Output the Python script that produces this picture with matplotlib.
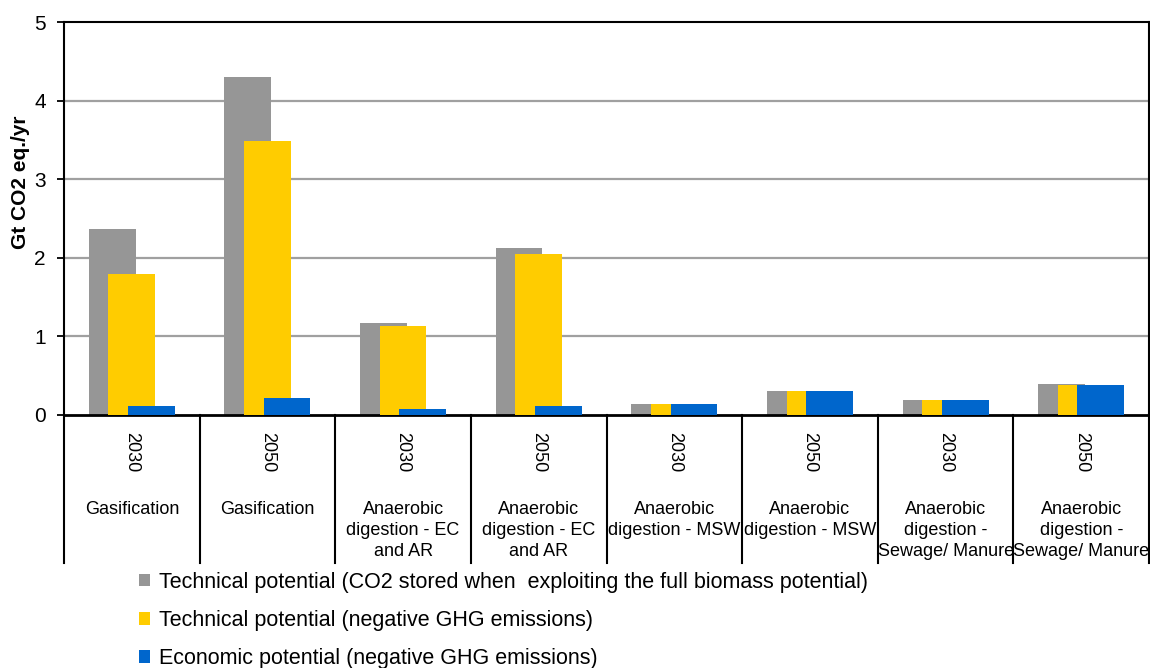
import matplotlib
matplotlib.use("Agg")
import matplotlib.pyplot as plt
from matplotlib.lines import Line2D
from matplotlib.transforms import blended_transform_factory
import numpy as np

plt.rcParams['font.family'] = ['Liberation Sans', 'DejaVu Sans']

# Data
years = ["2030", "2050", "2030", "2050", "2030", "2050", "2030", "2050"]
technologies = [
    "Gasification",
    "Gasification",
    "Anaerobic\ndigestion - EC\nand AR",
    "Anaerobic\ndigestion - EC\nand AR",
    "Anaerobic\ndigestion - MSW",
    "Anaerobic\ndigestion - MSW",
    "Anaerobic\ndigestion -\nSewage/ Manure",
    "Anaerobic\ndigestion -\nSewage/ Manure",
]
tech_full = [2.37, 4.30, 1.17, 2.12, 0.14, 0.30, 0.19, 0.40]
tech_neg = [1.79, 3.49, 1.13, 2.05, 0.14, 0.30, 0.19, 0.38]
econ_neg = [0.11, 0.21, 0.07, 0.11, 0.14, 0.30, 0.19, 0.38]
series_labels = [
    "Technical potential (CO2 stored when  exploiting the full biomass potential)",
    "Technical potential (negative GHG emissions)",
    "Economic potential (negative GHG emissions)",
]
colors = ["#969696", "#FFCC00", "#0066CC"]

W, H = 1150, 668
fig = plt.figure(figsize=(W / 100, H / 100), dpi=100)

def fy(px):
    return 1 - px / H

ax = fig.add_axes([64 / W, fy(415), (1149 - 64) / W, (415 - 22) / H])

x = np.arange(len(years))
width = 0.345
offset = 0.145
handles = []
for i, (vals, col, lab) in enumerate(zip([tech_full, tech_neg, econ_neg], colors, series_labels)):
    b = ax.bar(x + (i - 1) * offset, vals, width, color=col, label=lab, zorder=2 + i)
    handles.append(b)

ax.set_xlim(-0.5, len(years) - 0.5)
ax.set_ylim(0, 5)
ax.set_yticks(range(6))
ax.set_xticks([])
ax.tick_params(axis='y', labelsize=15, length=5, width=1.3, pad=8, color='black')
for yv in range(1, 5):
    ax.axhline(yv, color='#A0A0A0', lw=1.6, zorder=1)
for s in ax.spines.values():
    s.set_color('black')
    s.set_linewidth(1.5)
ax.spines['bottom'].set_linewidth(2)

fig.text(21 / W, fy(182), "Gt CO2 eq./yr", rotation=90, ha='center', va='center',
         fontsize=15, fontweight='bold')

# Category dividers and two-level labels below the axis
trans = blended_transform_factory(ax.transData, fig.transFigure)
for b in np.arange(-0.5, len(years), 1.0):
    ax.add_line(Line2D([b, b], [fy(415), fy(563)], transform=trans, color='black',
                       lw=1.5, clip_on=False))
for xi, yr, tech in zip(x, years, technologies):
    ax.text(xi, fy(452), yr, transform=trans, rotation=270, ha='center', va='center',
            fontsize=13)
    ax.text(xi, fy(501), tech, transform=trans, ha='center', va='top',
            fontsize=13, linespacing=1.3)

fig.legend(handles=handles, labels=series_labels, loc='upper left',
           bbox_to_anchor=(130 / W, fy(563)), frameon=False, fontsize=15.5,
           handlelength=0.55, handleheight=0.55, handletextpad=0.4,
           labelspacing=0.8, borderaxespad=0)

fig.savefig("out.png", dpi=100)
